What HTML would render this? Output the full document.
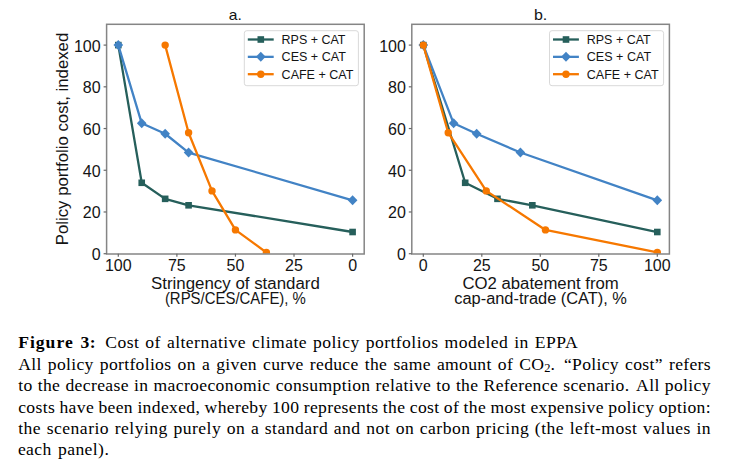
<!DOCTYPE html>
<html><head><meta charset="utf-8"><style>
html,body{margin:0;padding:0;background:#fff;width:729px;height:473px;overflow:hidden;position:relative}
.ln{position:absolute;font-family:"Liberation Serif",serif;font-size:17.6px;line-height:1;color:#000;
white-space:nowrap;text-align:justify;text-align-last:justify;letter-spacing:0.25px;word-spacing:-1.5px}
.ln.b{font-weight:bold;letter-spacing:1.0px}
.ln sub{font-size:12.5px;vertical-align:0;position:relative;top:2px;line-height:0;letter-spacing:0}
.sp{display:inline-block;width:2.5px}
</style></head><body>
<svg width="729" height="320" viewBox="0 0 729 320" style="position:absolute;left:0;top:0;font-family:'Liberation Sans', sans-serif" fill="#141414">
<clipPath id="ca"><rect x="106.60" y="24.30" width="257.60" height="229.40"/></clipPath><g clip-path="url(#ca)">
<polyline points="118.30,45.10 141.73,182.78 165.16,198.84 188.59,205.30 352.60,232.01" fill="none" stroke="#265f5b" stroke-width="2.3" stroke-linejoin="round"/>
<rect x="115.00" y="41.80" width="6.6" height="6.6" fill="#265f5b"/>
<rect x="138.43" y="179.48" width="6.6" height="6.6" fill="#265f5b"/>
<rect x="161.86" y="195.54" width="6.6" height="6.6" fill="#265f5b"/>
<rect x="185.29" y="202.00" width="6.6" height="6.6" fill="#265f5b"/>
<rect x="349.30" y="228.71" width="6.6" height="6.6" fill="#265f5b"/>
<polyline points="118.30,45.10 141.73,123.32 165.16,133.75 188.59,152.53 352.60,200.30" fill="none" stroke="#4283c5" stroke-width="2.3" stroke-linejoin="round"/>
<path d="M118.30 40.10L123.15 45.10L118.30 50.10L113.45 45.10Z" fill="#4283c5"/>
<path d="M141.73 118.32L146.58 123.32L141.73 128.32L136.88 123.32Z" fill="#4283c5"/>
<path d="M165.16 128.75L170.01 133.75L165.16 138.75L160.31 133.75Z" fill="#4283c5"/>
<path d="M188.59 147.53L193.44 152.53L188.59 157.53L183.74 152.53Z" fill="#4283c5"/>
<path d="M352.60 195.30L357.45 200.30L352.60 205.30L347.75 200.30Z" fill="#4283c5"/>
<polyline points="165.16,45.10 188.59,132.71 212.02,190.91 235.45,229.92 266.38,252.45" fill="none" stroke="#f67800" stroke-width="2.3" stroke-linejoin="round"/>
<circle cx="165.16" cy="45.10" r="3.7" fill="#f67800"/>
<circle cx="188.59" cy="132.71" r="3.7" fill="#f67800"/>
<circle cx="212.02" cy="190.91" r="3.7" fill="#f67800"/>
<circle cx="235.45" cy="229.92" r="3.7" fill="#f67800"/>
<circle cx="266.38" cy="252.45" r="3.7" fill="#f67800"/>
</g>
<rect x="106.60" y="24.30" width="257.60" height="229.70" fill="none" stroke="#858585" stroke-width="1.5"/>
<line x1="103.60" y1="253.70" x2="106.60" y2="253.70" stroke="#6a6a6a" stroke-width="1.2"/>
<text x="100.70" y="260.20" font-size="15.96" text-anchor="end" textLength="8.91" lengthAdjust="spacingAndGlyphs">0</text>
<line x1="103.60" y1="211.98" x2="106.60" y2="211.98" stroke="#6a6a6a" stroke-width="1.2"/>
<text x="100.70" y="218.48" font-size="15.96" text-anchor="end" textLength="17.81" lengthAdjust="spacingAndGlyphs">20</text>
<line x1="103.60" y1="170.26" x2="106.60" y2="170.26" stroke="#6a6a6a" stroke-width="1.2"/>
<text x="100.70" y="176.76" font-size="15.96" text-anchor="end" textLength="17.81" lengthAdjust="spacingAndGlyphs">40</text>
<line x1="103.60" y1="128.54" x2="106.60" y2="128.54" stroke="#6a6a6a" stroke-width="1.2"/>
<text x="100.70" y="135.04" font-size="15.96" text-anchor="end" textLength="17.81" lengthAdjust="spacingAndGlyphs">60</text>
<line x1="103.60" y1="86.82" x2="106.60" y2="86.82" stroke="#6a6a6a" stroke-width="1.2"/>
<text x="100.70" y="93.32" font-size="15.96" text-anchor="end" textLength="17.81" lengthAdjust="spacingAndGlyphs">80</text>
<line x1="103.60" y1="45.10" x2="106.60" y2="45.10" stroke="#6a6a6a" stroke-width="1.2"/>
<text x="100.70" y="51.60" font-size="15.96" text-anchor="end" textLength="26.72" lengthAdjust="spacingAndGlyphs">100</text>
<line x1="118.30" y1="253.70" x2="118.30" y2="256.70" stroke="#6a6a6a" stroke-width="1.2"/>
<text x="118.30" y="271.30" font-size="15.96" text-anchor="middle" textLength="26.72" lengthAdjust="spacingAndGlyphs">100</text>
<line x1="176.88" y1="253.70" x2="176.88" y2="256.70" stroke="#6a6a6a" stroke-width="1.2"/>
<text x="176.88" y="271.30" font-size="15.96" text-anchor="middle" textLength="17.81" lengthAdjust="spacingAndGlyphs">75</text>
<line x1="235.45" y1="253.70" x2="235.45" y2="256.70" stroke="#6a6a6a" stroke-width="1.2"/>
<text x="235.45" y="271.30" font-size="15.96" text-anchor="middle" textLength="17.81" lengthAdjust="spacingAndGlyphs">50</text>
<line x1="294.02" y1="253.70" x2="294.02" y2="256.70" stroke="#6a6a6a" stroke-width="1.2"/>
<text x="294.02" y="271.30" font-size="15.96" text-anchor="middle" textLength="17.81" lengthAdjust="spacingAndGlyphs">25</text>
<line x1="352.60" y1="253.70" x2="352.60" y2="256.70" stroke="#6a6a6a" stroke-width="1.2"/>
<text x="352.60" y="271.30" font-size="15.96" text-anchor="middle" textLength="8.91" lengthAdjust="spacingAndGlyphs">0</text>
<text x="235.40" y="19.80" font-size="14.98" text-anchor="middle" textLength="13.03" lengthAdjust="spacingAndGlyphs">a.</text>
<text x="235.40" y="288.70" font-size="15.84" text-anchor="middle" textLength="168.87" lengthAdjust="spacingAndGlyphs">Stringency of standard</text>
<text x="235.40" y="304.20" font-size="15.84" text-anchor="middle" textLength="141.00" lengthAdjust="spacingAndGlyphs">(RPS/CES/CAFE), %</text>
<g transform="translate(67.6,139.00) rotate(-90)"><text x="0.00" y="0.00" font-size="15.84" text-anchor="middle" textLength="212.52" lengthAdjust="spacingAndGlyphs">Policy portfolio cost, indexed</text></g>
<rect x="244.30" y="30.7" width="114.1" height="55" rx="2.5" fill="#fff" fill-opacity="0.8" stroke="#d9d9d9" stroke-width="1"/>
<line x1="247.80" y1="39.50" x2="273.70" y2="39.50" stroke="#265f5b" stroke-width="2.3"/>
<rect x="257.50" y="36.20" width="6.6" height="6.6" fill="#265f5b"/>
<text x="281.60" y="43.90" font-size="12.84" text-anchor="start" textLength="63.86" lengthAdjust="spacingAndGlyphs">RPS + CAT</text>
<line x1="247.80" y1="56.85" x2="273.70" y2="56.85" stroke="#4283c5" stroke-width="2.3"/>
<path d="M260.80 51.85L265.65 56.85L260.80 61.85L255.95 56.85Z" fill="#4283c5"/>
<text x="281.60" y="61.25" font-size="12.84" text-anchor="start" textLength="64.25" lengthAdjust="spacingAndGlyphs">CES + CAT</text>
<line x1="247.80" y1="74.20" x2="273.70" y2="74.20" stroke="#f67800" stroke-width="2.3"/>
<circle cx="260.80" cy="74.20" r="3.7" fill="#f67800"/>
<text x="281.60" y="78.60" font-size="12.84" text-anchor="start" textLength="71.74" lengthAdjust="spacingAndGlyphs">CAFE + CAT</text>
<clipPath id="cb"><rect x="411.80" y="24.30" width="257.60" height="229.40"/></clipPath><g clip-path="url(#cb)">
<polyline points="423.30,45.10 465.19,182.78 497.48,198.84 532.34,205.30 657.30,232.01" fill="none" stroke="#265f5b" stroke-width="2.3" stroke-linejoin="round"/>
<rect x="420.00" y="41.80" width="6.6" height="6.6" fill="#265f5b"/>
<rect x="461.89" y="179.48" width="6.6" height="6.6" fill="#265f5b"/>
<rect x="494.18" y="195.54" width="6.6" height="6.6" fill="#265f5b"/>
<rect x="529.04" y="202.00" width="6.6" height="6.6" fill="#265f5b"/>
<rect x="654.00" y="228.71" width="6.6" height="6.6" fill="#265f5b"/>
<polyline points="423.30,45.10 453.63,123.32 476.65,133.75 520.41,152.53 657.30,200.30" fill="none" stroke="#4283c5" stroke-width="2.3" stroke-linejoin="round"/>
<path d="M423.30 40.10L428.15 45.10L423.30 50.10L418.45 45.10Z" fill="#4283c5"/>
<path d="M453.63 118.32L458.48 123.32L453.63 128.32L448.78 123.32Z" fill="#4283c5"/>
<path d="M476.65 128.75L481.50 133.75L476.65 138.75L471.80 133.75Z" fill="#4283c5"/>
<path d="M520.41 147.53L525.26 152.53L520.41 157.53L515.56 152.53Z" fill="#4283c5"/>
<path d="M657.30 195.30L662.15 200.30L657.30 205.30L652.45 200.30Z" fill="#4283c5"/>
<polyline points="423.30,45.10 448.22,132.71 486.25,190.91 545.45,229.92 657.30,252.45" fill="none" stroke="#f67800" stroke-width="2.3" stroke-linejoin="round"/>
<circle cx="423.30" cy="45.10" r="3.7" fill="#f67800"/>
<circle cx="448.22" cy="132.71" r="3.7" fill="#f67800"/>
<circle cx="486.25" cy="190.91" r="3.7" fill="#f67800"/>
<circle cx="545.45" cy="229.92" r="3.7" fill="#f67800"/>
<circle cx="657.30" cy="252.45" r="3.7" fill="#f67800"/>
</g>
<rect x="411.80" y="24.30" width="257.60" height="229.70" fill="none" stroke="#858585" stroke-width="1.5"/>
<line x1="408.80" y1="253.70" x2="411.80" y2="253.70" stroke="#6a6a6a" stroke-width="1.2"/>
<text x="405.90" y="260.20" font-size="15.96" text-anchor="end" textLength="8.91" lengthAdjust="spacingAndGlyphs">0</text>
<line x1="408.80" y1="211.98" x2="411.80" y2="211.98" stroke="#6a6a6a" stroke-width="1.2"/>
<text x="405.90" y="218.48" font-size="15.96" text-anchor="end" textLength="17.81" lengthAdjust="spacingAndGlyphs">20</text>
<line x1="408.80" y1="170.26" x2="411.80" y2="170.26" stroke="#6a6a6a" stroke-width="1.2"/>
<text x="405.90" y="176.76" font-size="15.96" text-anchor="end" textLength="17.81" lengthAdjust="spacingAndGlyphs">40</text>
<line x1="408.80" y1="128.54" x2="411.80" y2="128.54" stroke="#6a6a6a" stroke-width="1.2"/>
<text x="405.90" y="135.04" font-size="15.96" text-anchor="end" textLength="17.81" lengthAdjust="spacingAndGlyphs">60</text>
<line x1="408.80" y1="86.82" x2="411.80" y2="86.82" stroke="#6a6a6a" stroke-width="1.2"/>
<text x="405.90" y="93.32" font-size="15.96" text-anchor="end" textLength="17.81" lengthAdjust="spacingAndGlyphs">80</text>
<line x1="408.80" y1="45.10" x2="411.80" y2="45.10" stroke="#6a6a6a" stroke-width="1.2"/>
<text x="405.90" y="51.60" font-size="15.96" text-anchor="end" textLength="26.72" lengthAdjust="spacingAndGlyphs">100</text>
<line x1="423.30" y1="253.70" x2="423.30" y2="256.70" stroke="#6a6a6a" stroke-width="1.2"/>
<text x="423.30" y="271.30" font-size="15.96" text-anchor="middle" textLength="8.91" lengthAdjust="spacingAndGlyphs">0</text>
<line x1="481.80" y1="253.70" x2="481.80" y2="256.70" stroke="#6a6a6a" stroke-width="1.2"/>
<text x="481.80" y="271.30" font-size="15.96" text-anchor="middle" textLength="17.81" lengthAdjust="spacingAndGlyphs">25</text>
<line x1="540.30" y1="253.70" x2="540.30" y2="256.70" stroke="#6a6a6a" stroke-width="1.2"/>
<text x="540.30" y="271.30" font-size="15.96" text-anchor="middle" textLength="17.81" lengthAdjust="spacingAndGlyphs">50</text>
<line x1="598.80" y1="253.70" x2="598.80" y2="256.70" stroke="#6a6a6a" stroke-width="1.2"/>
<text x="598.80" y="271.30" font-size="15.96" text-anchor="middle" textLength="17.81" lengthAdjust="spacingAndGlyphs">75</text>
<line x1="657.30" y1="253.70" x2="657.30" y2="256.70" stroke="#6a6a6a" stroke-width="1.2"/>
<text x="657.30" y="271.30" font-size="15.96" text-anchor="middle" textLength="26.72" lengthAdjust="spacingAndGlyphs">100</text>
<text x="540.60" y="19.80" font-size="14.98" text-anchor="middle" textLength="13.34" lengthAdjust="spacingAndGlyphs">b.</text>
<text x="540.60" y="288.70" font-size="15.84" text-anchor="middle" textLength="156.40" lengthAdjust="spacingAndGlyphs">CO2 abatement from</text>
<text x="540.60" y="304.20" font-size="15.84" text-anchor="middle" textLength="172.66" lengthAdjust="spacingAndGlyphs">cap-and-trade (CAT), %</text>
<rect x="549.50" y="30.7" width="114.1" height="55" rx="2.5" fill="#fff" fill-opacity="0.8" stroke="#d9d9d9" stroke-width="1"/>
<line x1="553.00" y1="39.50" x2="578.90" y2="39.50" stroke="#265f5b" stroke-width="2.3"/>
<rect x="562.70" y="36.20" width="6.6" height="6.6" fill="#265f5b"/>
<text x="586.80" y="43.90" font-size="12.84" text-anchor="start" textLength="63.86" lengthAdjust="spacingAndGlyphs">RPS + CAT</text>
<line x1="553.00" y1="56.85" x2="578.90" y2="56.85" stroke="#4283c5" stroke-width="2.3"/>
<path d="M566.00 51.85L570.85 56.85L566.00 61.85L561.15 56.85Z" fill="#4283c5"/>
<text x="586.80" y="61.25" font-size="12.84" text-anchor="start" textLength="64.25" lengthAdjust="spacingAndGlyphs">CES + CAT</text>
<line x1="553.00" y1="74.20" x2="578.90" y2="74.20" stroke="#f67800" stroke-width="2.3"/>
<circle cx="566.00" cy="74.20" r="3.7" fill="#f67800"/>
<text x="586.80" y="78.60" font-size="12.84" text-anchor="start" textLength="71.74" lengthAdjust="spacingAndGlyphs">CAFE + CAT</text>
</svg>
<div class="ln b" style="top:334.06px;left:18.2px;width:77.90px">Figure <span style="letter-spacing:0.4px">3:</span></div><div class="ln" style="top:334.06px;left:105.3px;width:472.75px;letter-spacing:0.448px">Cost of alternative climate policy portfolios modeled in EPPA</div><div class="ln" style="top:355.66px;left:18.2px;width:692.71px;letter-spacing:0.312px">All policy portfolios on a given curve reduce the same amount of CO<sub>2</sub>.<i class=sp></i> &ldquo;Policy cost&rdquo; refers</div><div class="ln" style="top:377.06px;left:18.2px;width:692.76px;letter-spacing:0.357px">to the decrease in macroeconomic consumption relative to the Reference scenario.<i class=sp></i> All policy</div><div class="ln" style="top:398.56px;left:18.2px;width:692.74px;letter-spacing:0.344px">costs have been indexed, whereby 100 represents the cost of the most expensive policy option:</div><div class="ln" style="top:420.16px;left:18.2px;width:692.88px;letter-spacing:0.479px">the scenario relying purely on a standard and not on carbon pricing (the left-most values in</div><div class="ln" style="top:441.26px;left:17.9px;width:91.31px;letter-spacing:0.405px">each panel).</div>
</body></html>
